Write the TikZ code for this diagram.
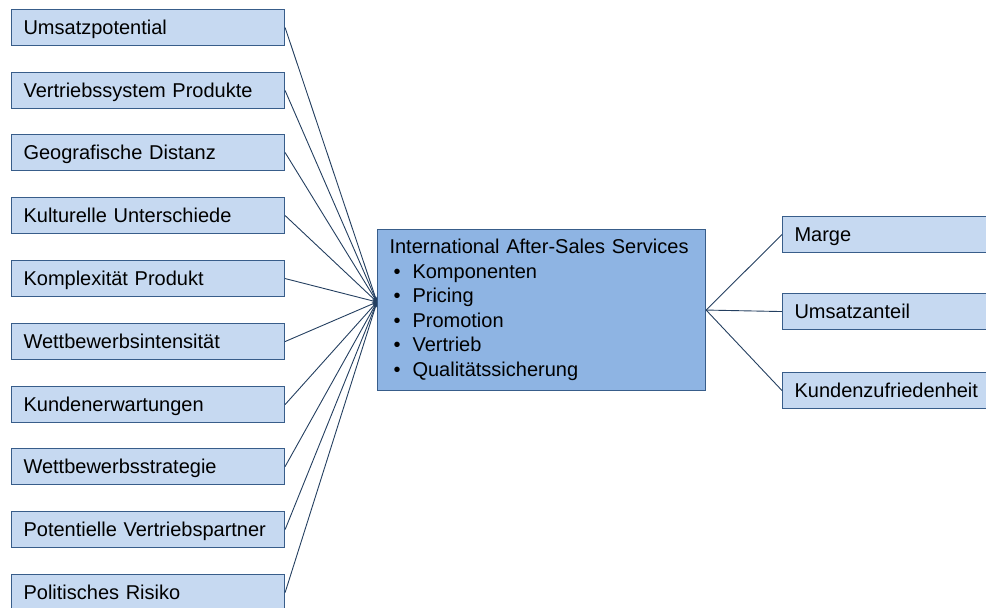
\documentclass[tikz,border=0pt]{standalone}
\usepackage{fontspec}
\setmainfont{Liberation Sans}
\usetikzlibrary{arrows.meta}

\definecolor{boxlight}{HTML}{C6D9F1}
\definecolor{boxmid}{HTML}{8EB4E3}
\definecolor{boxline}{HTML}{385D8A}
\definecolor{linkline}{HTML}{243F60}

\begin{document}
\begin{tikzpicture}[x=1pt, y=-1pt,
    factor/.style={draw=boxline, line width=1.1pt, fill=boxlight, anchor=north west,
        text width=249pt, inner xsep=12pt, inner ysep=0pt, minimum height=36pt,
        align=left, text height=17pt, text depth=2.5pt,
        font=\fontsize{20}{24.5}\selectfont},
    result/.style={factor, text width=190pt},
    link/.style={draw=linkline, line width=0.9pt}]
    \clip (0, 0) rectangle (986, 608);

    % influencing factors
    \node[factor] (umsatz) at (11, 9) {Umsatzpotential};
    \node[factor] (vertrieb) at (11, 72) {Vertriebssystem Produkte};
    \node[factor] (geo) at (11, 134) {Geografische Distanz};
    \node[factor] (kultur) at (11, 197) {Kulturelle Unterschiede};
    \node[factor] (komplex) at (11, 260) {Komplexität Produkt};
    \node[factor] (wettint) at (11, 323) {Wettbewerbsintensität};
    \node[factor] (kunden) at (11, 386) {Kundenerwartungen};
    \node[factor] (wettstr) at (11, 448) {Wettbewerbsstrategie};
    \node[factor] (partner) at (11, 511) {Potentielle Vertriebspartner};
    \node[factor] (risiko) at (11, 574) {Politisches Risiko};

    % after-sales services
    \node[draw=boxline, line width=1.1pt, fill=boxmid, anchor=north west,
        text width=304pt, inner xsep=12pt, minimum height=161pt, align=left,
        font=\fontsize{20}{24.5}\selectfont] (iass) at (377, 229)
        {International After-Sales Services\\
        \hspace*{4pt}\makebox[19pt][l]{•}Komponenten\\
        \hspace*{4pt}\makebox[19pt][l]{•}Pricing\\
        \hspace*{4pt}\makebox[19pt][l]{•}Promotion\\
        \hspace*{4pt}\makebox[19pt][l]{•}Vertrieb\\
        \hspace*{4pt}\makebox[19pt][l]{•}Qualitätssicherung};
    \coordinate (in) at (377, 302);

    % results
    \node[result] (marge) at (782, 216) {Marge};
    \node[result] (anteil) at (782, 293) {Umsatzanteil};
    \node[result] (zufr) at (782, 372) {Kundenzufriedenheit};

    \foreach \f in {umsatz, vertrieb, geo, kultur, komplex, wettint, kunden, wettstr, partner, risiko}
        \draw[link, -{Stealth[length=5pt, width=3.5pt]}] (\f.east) -- (in);

    \draw[link] (iass.east) -- (marge.west);
    \draw[link] (iass.east) -- (anteil.west);
    \draw[link] (iass.east) -- (zufr.west);
\end{tikzpicture}
\end{document}
